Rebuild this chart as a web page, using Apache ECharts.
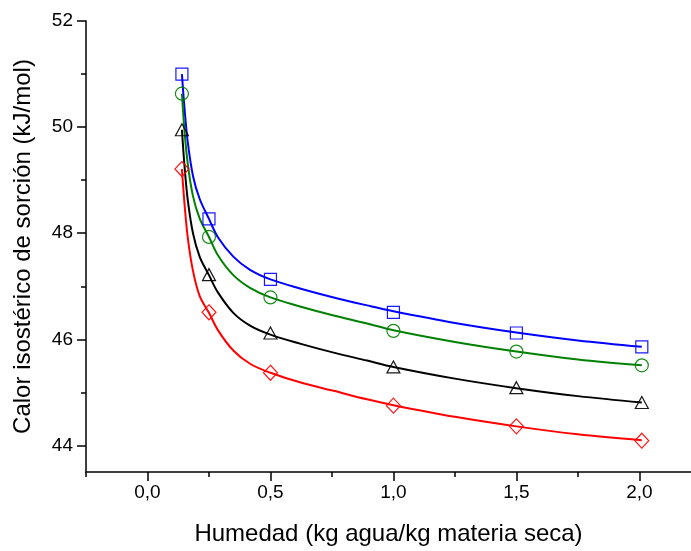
<!DOCTYPE html>
<html>
<head>
<meta charset="utf-8">
<script src="https://cdn.jsdelivr.net/npm/echarts@6/dist/echarts.min.js"></script>
<style>html,body{margin:0;padding:0;background:#fff}#c{width:691px;height:551px}</style>
</head>
<body>
<div id="c"></div>
<script>
// Measured points
const markerX = [0.14, 0.25, 0.5, 1.0, 1.5, 2.01];
const blueY  = [51.00, 48.27, 47.13, 46.51, 46.12, 45.86];
const greenY = [50.63, 47.93, 46.79, 46.16, 45.77, 45.51];
const blackY = [49.95, 47.22, 46.12, 45.48, 45.09, 44.81];
const redY   = [49.21, 46.51, 45.37, 44.75, 44.36, 44.09];

// Fitted curves
const curveX = [0.14, 0.151, 0.164, 0.185, 0.212, 0.25, 0.287, 0.349, 0.417, 0.5, 0.62, 0.757, 0.893, 1.0, 1.25, 1.5, 1.75, 2.01];
const blueCurve  = [51.00, 50.33, 49.71, 49.08, 48.65, 48.27, 47.92, 47.56, 47.31, 47.13, 46.96, 46.79, 46.64, 46.53, 46.31, 46.13, 45.98, 45.86];
const greenCurve = [50.63, 49.90, 49.30, 48.70, 48.28, 47.93, 47.58, 47.21, 46.97, 46.79, 46.62, 46.45, 46.30, 46.17, 45.95, 45.77, 45.62, 45.51];
const blackCurve = [49.95, 49.24, 48.62, 48.00, 47.56, 47.21, 46.88, 46.50, 46.26, 46.09, 45.92, 45.75, 45.60, 45.48, 45.26, 45.08, 44.93, 44.81];
const redCurve   = [49.21, 48.53, 47.91, 47.29, 46.82, 46.50, 46.17, 45.79, 45.54, 45.37, 45.19, 45.03, 44.87, 44.76, 44.54, 44.36, 44.21, 44.10];

const xMajor = [0, 0.5, 1.0, 1.5, 2.0];
const xMinor = [-0.25, 0.25, 0.75, 1.25, 1.75];
const yMajor = [44, 46, 48, 50, 52];
const yMinor = [45, 47, 49, 51];

const xTitle = 'Humedad (kg agua/kg materia seca)';
const yTitle = 'Calor isostérico de sorción (kJ/mol)';

const FONT = '"Liberation Sans", Arial, sans-serif';
const zip = (xs, ys) => xs.map((x, i) => [x, ys[i]]);

const series = [];
const defs = [
  {c: blueCurve, m: blueY, color: '#0000ff', sym: 'rect', size: 12},
  {c: greenCurve, m: greenY, color: '#008000', sym: 'circle', size: 13},
  {c: blackCurve, m: blackY, color: '#000000', sym: 'triangle', size: [13, 12]},
  {c: redCurve, m: redY, color: '#ff0000', sym: 'diamond', size: [14, 15]}
];
defs.forEach(d => {
  series.push({
    type: 'line', data: zip(curveX, d.c), smooth: 0.35, showSymbol: false, symbol: 'none',
    lineStyle: {color: d.color, width: 2}, z: 2, silent: true, animation: false
  });
});
defs.forEach(d => {
  series.push({
    type: 'scatter', data: zip(markerX, d.m), symbol: d.sym, symbolSize: d.size,
    itemStyle: {color: 'rgba(0,0,0,0)', borderColor: d.color, borderWidth: 1.2, opacity: 0.9},
    z: 3, silent: true, animation: false
  });
});

const axisLine = {show: true, onZero: false, lineStyle: {color: '#000', width: 1.5}};
const chart = echarts.init(document.getElementById('c'), null, {renderer: 'canvas'});
chart.setOption({
  animation: false,
  backgroundColor: '#fff',
  grid: {left: 86, right: 0, top: 21, bottom: 76, containLabel: false},
  xAxis: [
    {
      type: 'value', min: -0.25, max: 2.21, position: 'bottom',
      axisLine: axisLine,
      axisTick: {show: true, inside: false, length: 9, lineStyle: {color: '#000', width: 1.5}, customValues: xMajor},
      axisLabel: {show: true, customValues: xMajor, margin: 11, color: '#000', fontSize: 19, fontFamily: FONT,
        formatter: v => v.toFixed(1).replace('.', ',')},
      splitLine: {show: false},
      name: xTitle, nameLocation: 'middle', nameGap: 50,
      nameTextStyle: {color: '#000', fontSize: 24, fontFamily: FONT}
    },
    {
      type: 'value', min: -0.25, max: 2.21, position: 'bottom', gridIndex: 0,
      axisLine: {show: false, onZero: false},
      axisTick: {show: true, inside: false, length: 5, lineStyle: {color: '#000', width: 1.5}, customValues: xMinor},
      axisLabel: {show: false}, splitLine: {show: false}
    }
  ],
  yAxis: [
    {
      type: 'value', min: 43.5, max: 52, position: 'left',
      axisLine: axisLine,
      axisTick: {show: true, inside: false, length: 9, lineStyle: {color: '#000', width: 1.5}, customValues: yMajor},
      axisLabel: {show: true, customValues: yMajor, margin: 13, color: '#000', fontSize: 19, fontFamily: FONT,
        formatter: v => String(Math.round(v))},
      splitLine: {show: false},
      name: yTitle, nameLocation: 'middle', nameGap: 51, nameRotate: 90,
      nameTextStyle: {color: '#000', fontSize: 24, fontFamily: FONT}
    },
    {
      type: 'value', min: 43.5, max: 52, position: 'left', gridIndex: 0,
      axisLine: {show: false, onZero: false},
      axisTick: {show: true, inside: false, length: 5, lineStyle: {color: '#000', width: 1.5}, customValues: yMinor},
      axisLabel: {show: false}, splitLine: {show: false}
    }
  ],
  series: series
});
</script>
</body>
</html>
